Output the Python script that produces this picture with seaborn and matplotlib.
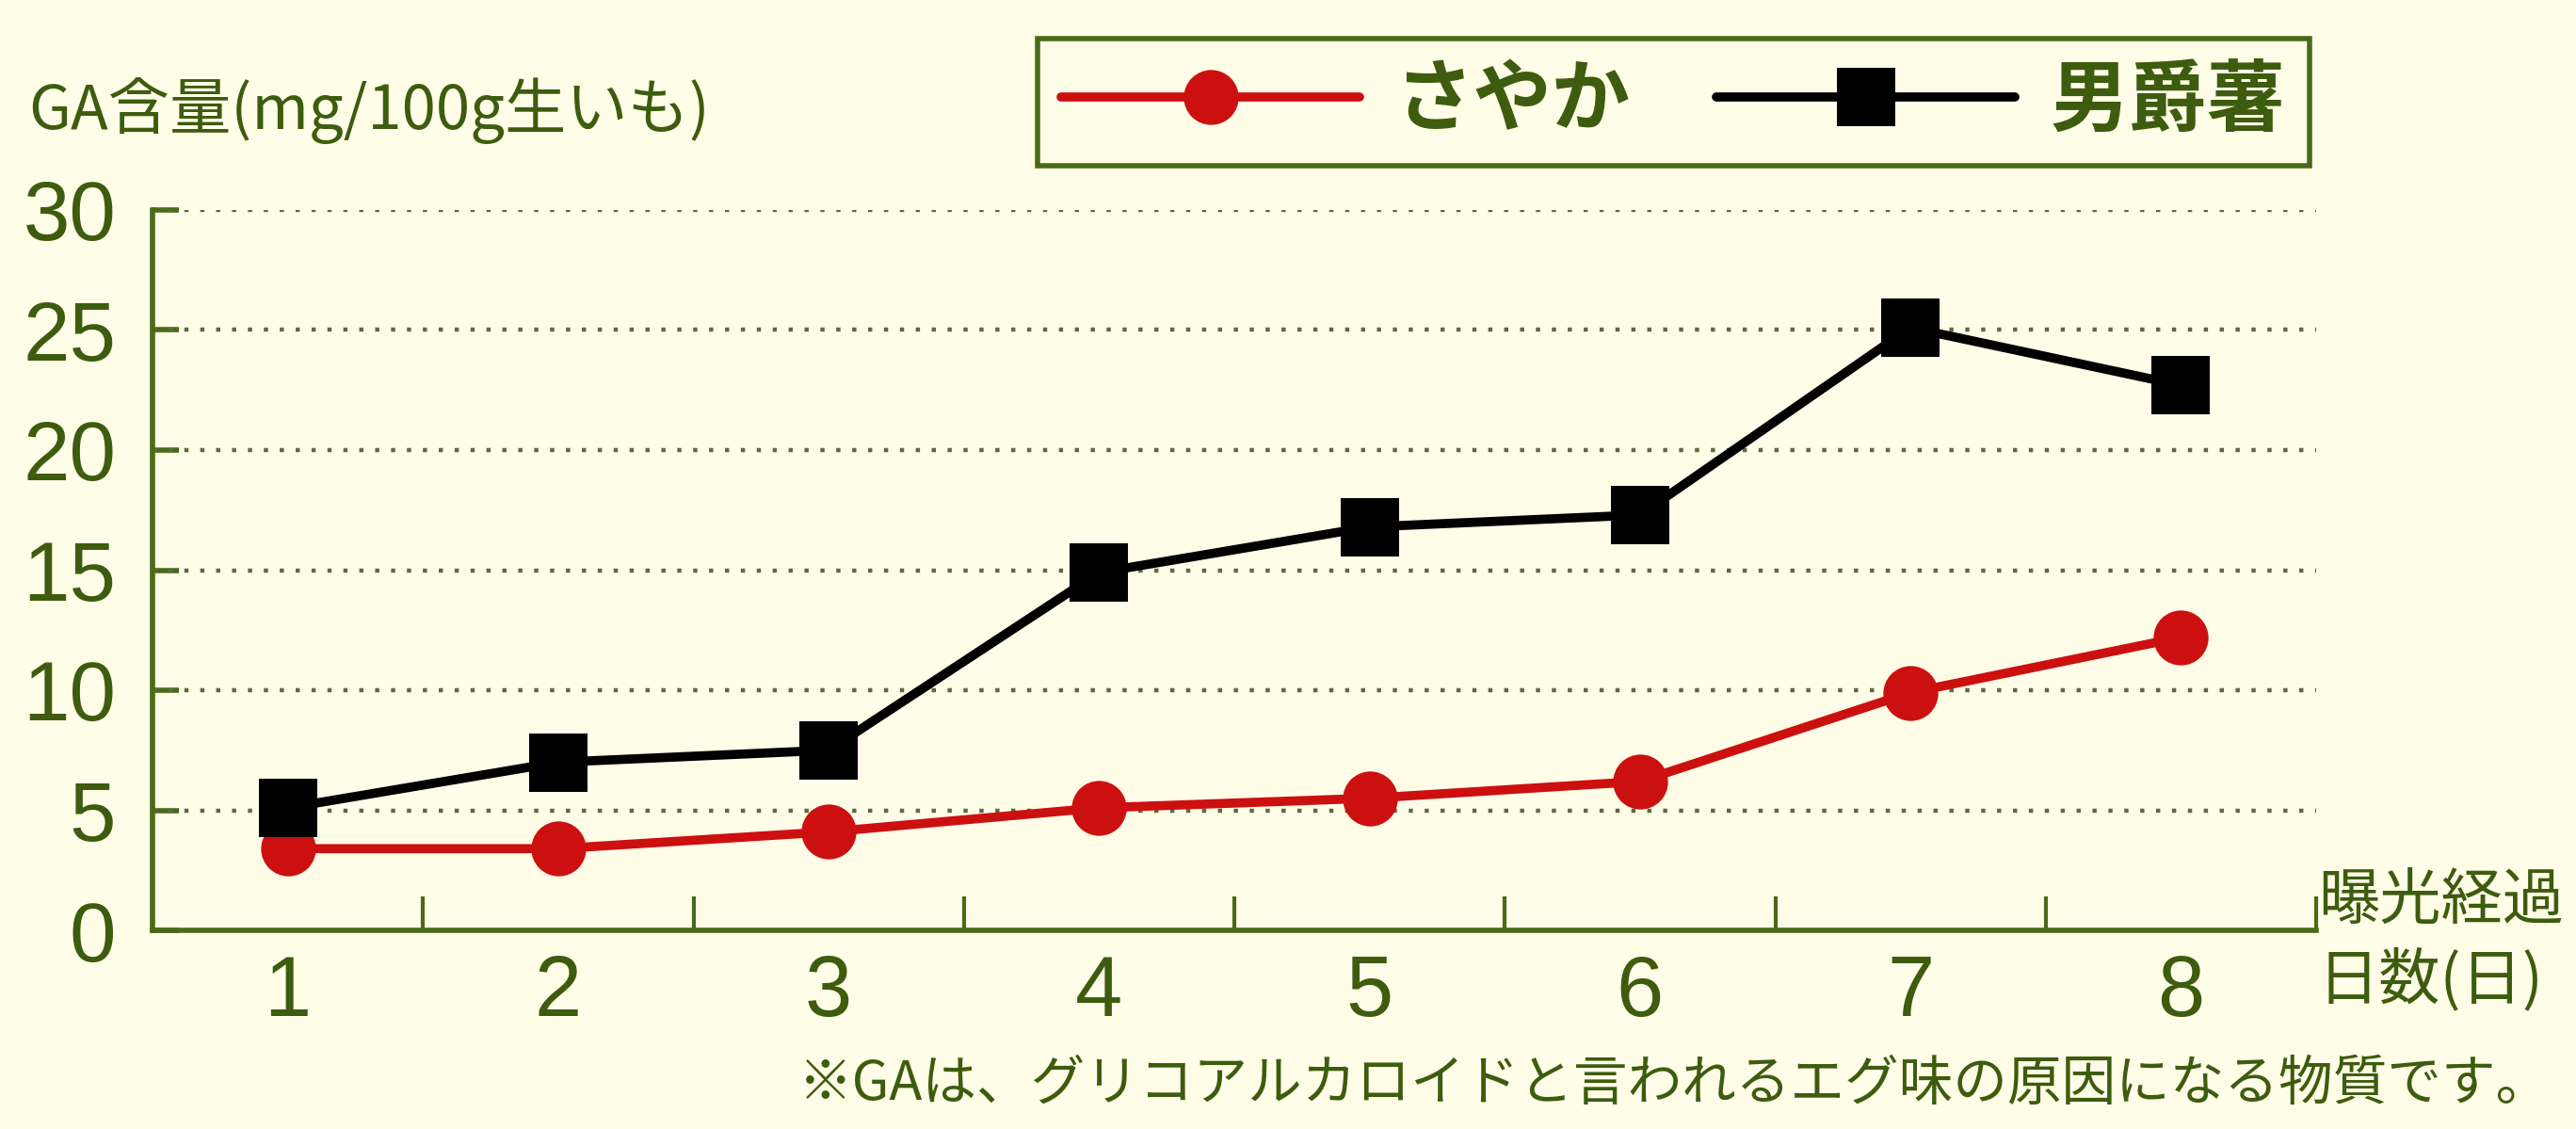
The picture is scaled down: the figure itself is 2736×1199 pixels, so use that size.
import matplotlib
matplotlib.use("Agg")
import matplotlib.pyplot as plt
from matplotlib.ticker import FixedLocator
import seaborn as sns
import pandas as pd

days = [1, 2, 3, 4, 5, 6, 7, 8]
sayaka = [3.4, 3.4, 4.1, 5.1, 5.5, 6.2, 9.9, 12.2]
danshaku = [5.1, 7.0, 7.5, 14.9, 16.8, 17.3, 25.1, 22.7]
series_names = ["さやか", "男爵薯"]
y_ticks = [0, 5, 10, 15, 20, 25, 30]
y_label = "GA含量(mg/100g生いも)"
x_label = "曝光経過\n日数(日)"
footnote = "※GAは、グリコアルカロイドと言われるエグ味の原因になる物質です。"

df = pd.DataFrame({
    "day": days * 2,
    "GA": sayaka + danshaku,
    "variety": [series_names[0]] * len(days) + [series_names[1]] * len(days),
})

sns.set_theme(style="white")
jp = ["Noto Sans CJK JP", "DejaVu Sans"]
num = ["Liberation Sans Narrow", "Liberation Sans", "DejaVu Sans"]
plt.rcParams["font.family"] = jp

BG = "#FFFDE8"
GREEN = "#3d5c0e"
SPINE = "#4a6a18"
GRID = "#5c6a45"
RED = "#cc1010"

fig = plt.figure(figsize=(27.36, 11.99), dpi=100, facecolor=BG)
ax = fig.add_axes([162 / 2736, 1 - 988 / 1199, (2460 - 162) / 2736, (988 - 223) / 1199])
ax.set_facecolor(BG)

sns.lineplot(
    data=df, x="day", y="GA", hue="variety", style="variety",
    palette={series_names[0]: RED, series_names[1]: "black"},
    markers={series_names[0]: "o", series_names[1]: "s"},
    dashes=False, linewidth=7, markersize=45, markeredgewidth=0,
    legend=False, ax=ax, zorder=5,
)
for ln in ax.get_lines():
    if ln.get_marker() == "o":
        ln.set_markersize(42)
    ln.set_clip_on(False)

ax.set_xlim(0.5, 8.5)
ax.set_ylim(0, 30)
ax.set_xticks(days)
ax.set_xticklabels([str(d) for d in days])
ax.xaxis.set_minor_locator(FixedLocator([d + 0.5 for d in days]))
ax.set_yticks(y_ticks)
ax.set_yticklabels([str(v) for v in y_ticks])

for y in y_ticks[1:]:
    ax.axhline(y, color=GRID, linewidth=3.2, linestyle=(0, (1, 2.8)), zorder=1)

for s in ["top", "right"]:
    ax.spines[s].set_visible(False)
for s in ["left", "bottom"]:
    ax.spines[s].set_color(SPINE)
    ax.spines[s].set_linewidth(4)
    ax.spines[s].set_zorder(3)

ax.tick_params(axis="x", which="major", length=0, pad=18, labelsize=65, labelcolor=GREEN)
ax.tick_params(axis="x", which="minor", direction="in", length=26, width=3, color=SPINE, bottom=True)
ax.tick_params(axis="y", which="major", direction="in", length=20, width=4, color=SPINE, pad=28,
               labelsize=64, labelcolor=GREEN, left=True)
for lab in ax.get_xticklabels() + ax.get_yticklabels():
    lab.set_family(num)

ax.set_xlabel("")
ax.set_ylabel("")

fig.text(30 / 2736, 1 - 118 / 1199, y_label, fontsize=47, color=GREEN, va="center", ha="left",
         family=jp)
fig.text(2462 / 2736, 1 - 1000 / 1199, x_label, fontsize=47, color=GREEN, va="center", ha="left",
         linespacing=1.3, family=jp)
fig.text(848 / 2736, 1 - 1152 / 1199, footnote, fontsize=41.5, color=GREEN, va="center", ha="left",
         family=jp)

handles = ax.get_lines()[:2]
leg = fig.legend(
    handles, series_names, loc="center",
    bbox_to_anchor=((1103 + 2452) / 2 / 2736, 1 - (38 + 178) / 2 / 1199),
    ncol=2, frameon=True, fancybox=False,
    prop={"family": jp, "size": 60, "weight": "bold"},
    handlelength=3.8, handletextpad=0.45, columnspacing=1.1, borderpad=0.3,
    borderaxespad=0,
)
frame = leg.get_frame()
frame.set_edgecolor(SPINE)
frame.set_linewidth(4)
frame.set_facecolor(BG)
frame.set_alpha(1)
for t in leg.get_texts():
    t.set_color(GREEN)

fig.savefig("out.png", dpi=100, facecolor=BG)
